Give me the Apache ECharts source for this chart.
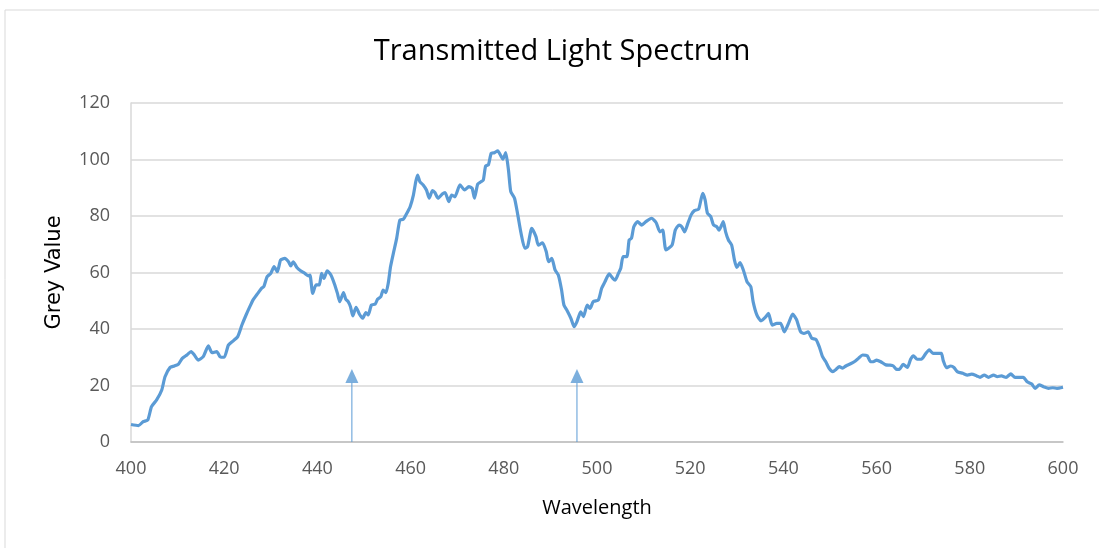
<!DOCTYPE html>
<html>
<head>
<meta charset="utf-8">
<script src="https://cdn.jsdelivr.net/npm/echarts@6/dist/echarts.min.js"></script>
<style>
html,body{margin:0;padding:0;background:#fff;}
#chart{width:1099px;height:548px;}
</style>
</head>
<body>
<div id="chart"></div>
<script>
var wavelengths = [400.0,401.6,402.6,403.6,404.4,405.5,406.6,407.3,408.4,409.3,410.2,411.0,412.0,412.9,413.6,414.4,415.5,416.6,417.4,418.4,419.1,420.0,420.9,422.0,422.9,423.8,424.6,425.5,426.2,427.2,428.0,428.5,429.2,430.0,430.7,431.4,432.1,433.0,433.8,434.3,434.8,435.6,436.4,437.3,438.1,438.4,439.0,439.7,440.4,440.9,441.4,442.1,442.9,443.6,444.3,444.8,445.6,446.1,446.6,447.1,447.6,448.3,449.0,449.7,450.4,450.9,451.6,452.4,452.9,453.6,454.1,454.7,455.2,455.7,456.3,457.0,457.7,458.4,459.2,459.9,460.6,461.1,461.5,462.0,462.7,463.4,464.0,464.7,465.2,465.9,466.8,467.4,468.2,468.8,469.5,470.6,471.6,472.5,473.2,473.7,474.4,475.1,475.6,476.1,476.7,477.3,478.0,478.7,479.4,479.8,480.4,481.0,481.5,482.3,483.0,483.7,484.5,485.1,486.0,486.9,487.4,488.3,489.1,489.6,490.3,491.0,491.7,492.4,492.9,493.6,494.4,495.1,495.7,496.5,497.1,497.9,498.5,499.2,500.3,501.0,501.7,502.6,503.4,503.9,504.6,505.1,505.6,506.4,506.9,507.4,507.9,508.7,509.6,510.5,511.7,512.7,513.5,514.1,514.8,516.1,516.8,517.6,518.2,518.8,519.5,520.2,520.9,521.8,522.3,522.7,523.2,523.7,524.4,525.0,525.7,526.2,526.6,527.1,527.6,528.2,528.9,529.5,530.0,530.7,531.4,532.2,533.0,533.5,534.3,535.2,536.1,536.8,537.6,538.6,539.4,540.2,541.1,542.0,542.8,543.7,544.4,545.3,546.1,547.0,547.7,548.4,549.1,549.8,550.6,551.3,552.0,552.7,553.4,554.3,555.2,556.1,557.0,558.0,558.7,559.3,560.0,560.9,562.0,562.9,563.6,564.3,564.9,565.7,566.6,567.3,567.9,568.7,569.6,570.5,571.3,572.1,573.0,573.9,574.3,575.0,575.9,576.6,577.3,578.5,579.5,580.4,581.5,582.2,583.1,584.0,585.1,585.9,586.8,587.8,588.8,589.7,590.6,591.5,592.3,593.3,594.0,594.9,595.8,596.9,597.8,598.7,600.0];
var greyValues = [6.2,5.8,7.2,7.8,12.5,14.9,18.4,23.1,26.4,26.9,27.6,29.6,30.8,32.0,30.8,29.0,30.2,34.0,31.6,32.0,30.2,30.0,34.3,35.9,37.3,41.4,44.6,47.9,50.3,52.6,54.4,55.0,58.5,59.7,62.1,60.3,64.4,65.0,63.8,62.3,63.8,61.8,60.6,59.7,58.8,59.1,52.6,55.6,55.6,59.7,57.9,60.6,59.1,56.2,52.6,49.7,52.9,50.5,49.7,47.9,44.6,47.7,45.3,43.8,45.8,45.0,48.5,48.8,50.5,51.4,53.8,52.9,56.2,62.1,66.8,72.0,78.6,78.8,81.0,83.3,87.4,92.1,94.5,92.1,91.0,89.2,86.3,89.0,88.3,86.3,87.8,88.3,85.1,87.4,86.8,91.0,89.2,90.4,89.8,86.3,91.3,92.1,92.7,97.7,98.1,102.2,102.4,103.1,101.2,100.1,102.4,96.3,88.6,86.3,80.4,73.9,68.6,69.1,75.6,72.7,69.7,70.5,67.4,63.8,65.0,60.9,59.1,53.8,48.5,46.5,43.8,40.8,42.6,46.1,44.4,48.5,47.3,49.7,50.3,54.4,56.7,59.5,57.9,57.3,59.7,61.5,65.6,65.6,71.5,72.1,76.2,78.0,76.8,78.0,79.2,77.6,74.4,75.0,68.0,69.7,75.0,76.8,76.2,74.4,77.4,80.4,81.9,82.4,85.7,88.0,85.7,81.0,79.8,76.8,76.2,75.0,76.2,78.0,74.4,71.5,69.7,64.4,61.8,63.5,60.9,56.7,55.0,49.7,45.0,42.9,44.1,45.5,41.4,42.0,42.0,39.0,42.0,45.3,43.4,39.0,38.4,39.0,36.7,36.3,33.7,30.2,28.4,26.1,24.9,25.7,26.7,26.1,26.9,27.6,28.4,29.6,30.8,30.5,28.4,28.4,29.0,28.4,27.3,27.2,26.9,25.7,25.7,27.5,26.4,29.3,30.5,29.3,29.3,31.2,32.6,31.4,31.4,31.4,28.8,26.3,26.9,26.4,24.9,24.3,23.7,24.0,23.4,22.9,23.7,22.9,23.7,23.1,23.4,22.9,24.1,22.9,22.9,22.9,21.3,20.5,19.0,20.2,19.6,19.0,19.2,19.0,19.4];
var arrowWavelengths = [447.4, 495.7];
var arrowShaftTop = 21;
var arrowHeadCenter = 23.4;
var xTicks = [400,420,440,460,480,500,520,540,560,580,600];
var yTicks = [0,20,40,60,80,100,120];

var lineData = wavelengths.map(function(w,i){return [w, greyValues[i]];});
var color = '#5B9BD5';
var font = '"Open Sans", "Liberation Sans", sans-serif';

var series = [{
  type:'line', data: lineData, showSymbol:false, symbol:'none', smooth:0.2,
  lineStyle:{color:color, width:3.2}, z:3, animation:false
}];
arrowWavelengths.forEach(function(w){
  series.push({type:'line', data:[[w,0],[w,arrowShaftTop]], symbol:'none',
    lineStyle:{color:color,width:1}, animation:false, z:2});
  series.push({type:'scatter', data:[[w,arrowHeadCenter]], symbol:'triangle', symbolSize:[13,14],
    itemStyle:{color:color}, animation:false, z:2});
});

var chart = echarts.init(document.getElementById('chart'), null, {renderer:'canvas'});
chart.setOption({
  backgroundColor:'#fff',
  animation:false,
  title:{text:'Transmitted Light Spectrum', left:557, top:32, textAlign:'center',
    textStyle:{fontFamily:font, fontSize:29, fontWeight:'normal', color:'#000'}},
  grid:{left:131, right:36, top:103, bottom:106},
  graphic:[{type:'rect', shape:{x:5,y:10,width:1100,height:545}, style:{fill:'none', stroke:'#d9d9d9', lineWidth:1}, silent:true}],
  xAxis:{type:'value', min:xTicks[0], max:xTicks[xTicks.length-1], interval:20,
    name:'Wavelength', nameLocation:'middle', nameGap:56,
    nameTextStyle:{fontFamily:font, fontSize:20, color:'#000'},
    axisLine:{show:true, lineStyle:{color:'#bfbfbf', width:1.5}},
    axisTick:{show:false}, splitLine:{show:false},
    axisLabel:{fontFamily:font, fontSize:18, color:'#595959', margin:18}},
  yAxis:{type:'value', min:yTicks[0], max:yTicks[yTicks.length-1], interval:20,
    name:'Grey Value', nameLocation:'middle', nameGap:66, nameRotate:90,
    nameTextStyle:{fontFamily:'"DejaVu Sans", sans-serif', fontSize:21, color:'#000'},
    axisLine:{show:true, lineStyle:{color:'#d9d9d9', width:1.5}},
    axisTick:{show:false},
    splitLine:{show:true, lineStyle:{color:'#d9d9d9', width:1.5}},
    axisLabel:{fontFamily:font, fontSize:18, color:'#595959', margin:21}},
  series: series
});
</script>
</body>
</html>
